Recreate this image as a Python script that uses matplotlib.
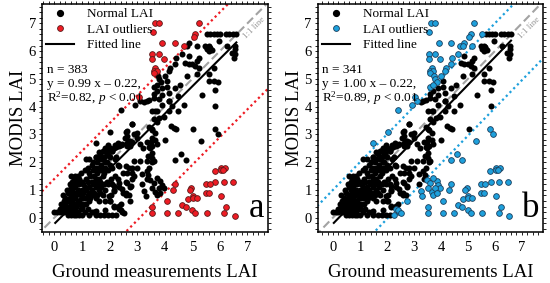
import matplotlib.pyplot as plt
import numpy as np
from matplotlib.lines import Line2D
from matplotlib.ticker import MultipleLocator

plt.rcParams["font.family"] = "Liberation Serif"
plt.rcParams["mathtext.fontset"] = "custom"
plt.rcParams["mathtext.rm"] = "Liberation Serif"
plt.rcParams["mathtext.it"] = "Liberation Serif:italic"

# dense low-LAI cluster, one row per MODIS value: ground LAI values
cluster_rows = {
    0.1: [0.5, 0.6, 0.7, 0.8, 0.9, 1.0, 1.25, 1.5, 1.65, 1.8, 1.95, 2.1, 2.25],
    0.2: [0.0, 0.1, 0.2, 0.35, 0.45, 0.55, 0.65, 0.75, 0.85, 1.1, 1.35, 1.45, 2.45],
    0.3: [0.2, 0.4, 0.5, 0.6, 0.7, 0.95, 1.2, 2.35],
    0.4: [0.3, 0.45, 0.55, 0.65, 0.8, 1.0, 2.15, 2.3],
    0.5: [0.25, 0.4, 0.6, 0.7, 0.85, 1.05, 1.15, 2.4],
    0.6: [0.35, 0.5, 0.65, 0.9, 1.25, 1.6, 1.85, 2.0],
    0.7: [0.4, 0.55, 0.75, 1.0, 1.1, 1.3, 1.5],
    0.8: [0.3, 0.6, 0.8, 0.95, 1.2, 1.4, 1.55, 1.75, 2.05, 2.6, 2.7],
    0.9: [0.5, 0.7, 0.9, 1.05, 1.3, 1.45, 1.65, 2.5],
    1.0: [0.45, 0.65, 0.85, 1.0, 1.15, 1.35, 1.6, 1.85, 2.15],
    1.1: [0.6, 0.75, 1.1, 1.25, 1.5, 1.7, 2.35, 2.75],
    1.2: [0.55, 0.7, 0.9, 1.05, 1.4, 1.55, 1.8, 1.95, 2.1],
    1.3: [0.65, 0.8, 1.0, 1.2, 1.35, 1.65, 1.9, 2.6],
    1.4: [0.7, 0.9, 1.15, 1.5, 1.6, 2.05, 2.3],
    1.5: [0.6, 0.75, 0.85, 1.3, 1.45, 1.75, 2.2],
    1.6: [0.95, 1.25, 1.55, 1.8, 2.5, 2.65],
    1.7: [1.1, 1.4, 1.7, 1.95],
    1.8: [1.2, 1.5, 1.6, 1.85, 2.1],
    1.9: [1.35, 1.7, 2.0, 2.3],
    2.0: [1.4, 1.55, 1.9],
    2.1: [1.25, 1.6, 1.75, 2.2],
    2.2: [1.5, 1.8, 2.0, 2.25],
    2.3: [1.65, 1.9],
    2.4: [1.75, 2.1],
    2.5: [1.85, 2.0, 2.15],
    2.6: [1.95, 2.2, 2.4],
    2.7: [1.5, 2.3],
}

# remaining normal points (ground, MODIS)
normal_mid = [
    (2.8, 3.38), (2.03, 3.08), (2.58, 3.08), (2.64, 2.95), (2.88, 3.02), (3.43, 3.26),
    (3.55, 3.14), (2.7, 2.77), (2.82, 2.71), (2.46, 2.65), (2.34, 2.59), (2.22, 2.53),
    (2.64, 2.59), (1.79, 2.41), (1.91, 2.35), (2.1, 2.41), (1.97, 2.23), (1.61, 2.35),
    (1.73, 2.11), (1.85, 1.99), (1.49, 2.17), (1.13, 2.11), (3.37, 2.71), (3.49, 2.71),
    (3.55, 2.59), (3.43, 2.53), (3.12, 2.05), (2.88, 2.05), (2.58, 1.87), (2.7, 1.8),
    (2.82, 1.8), (3.0, 1.8), (2.34, 1.87), (3.43, 1.8), (3.55, 1.99), (3.37, 1.38),
    (3.19, 1.56), (2.82, 1.62), (2.88, 1.5), (2.82, 1.38), (2.64, 1.26), (2.76, 1.14),
    (2.46, 1.02), (2.58, 0.9), (2.34, 1.26), (2.16, 1.14), (2.16, 0.96), (1.97, 0.78),
    (2.03, 0.59), (2.16, 0.41), (2.34, 0.41), (2.4, 0.29), (2.52, 0.17), (1.85, 0.29),
    (1.49, 0.23), (1.01, 0.35), (3.19, 1.2), (3.25, 0.96), (3.31, 0.78), (2.75, 0.6),
]
normal_high = [
    (2.42, 3.89), (2.94, 4.07), (3.1, 4.2), (3.25, 4.15), (3.35, 4.21), (3.75, 5.1),
    (3.8, 5.0), (3.85, 4.9), (3.6, 4.7), (3.72, 4.58), (3.6, 4.46), (3.78, 4.27),
    (4.08, 4.7), (3.53, 3.85), (3.66, 3.85), (3.6, 3.55), (3.72, 3.43), (3.53, 3.18),
    (3.66, 3.06), (3.53, 2.88), (3.66, 2.78), (3.72, 2.64), (3.47, 2.52), (3.53, 2.34),
    (3.53, 2.15), (3.6, 2.03), (3.35, 2.03), (3.41, 2.22), (2.99, 3.06), (2.99, 2.88),
    (3.11, 2.64), (3.23, 2.52), (2.75, 2.76), (2.81, 3.37), (2.63, 3.12), (2.57, 2.88),
    (2.63, 2.7), (2.75, 2.58), (3.35, 1.67), (3.41, 1.55), (3.47, 1.37), (3.6, 1.25),
    (3.53, 1.07), (3.66, 0.94), (3.72, 0.82), (3.84, 1.31), (3.9, 1.19), (3.96, 1.07),
    (3.72, 1.43), (3.78, 1.08), (3.84, 0.9), (4.14, 4.21), (4.26, 4.03), (4.5, 3.85),
    (3.81, 3.6), (4.02, 2.78), (4.24, 3.3), (4.32, 3.22), (4.41, 3.2), (5.03, 3.2),
    (5.81, 3.2), (5.93, 3.02), (5.32, 2.77), (4.6, 2.29), (4.36, 2.08), (4.78, 2.08),
    (3.61, 4.31), (3.43, 4.25),
]
normal_top = [
    (5.53, 6.6), (5.66, 6.6), (5.78, 6.6), (5.9, 6.6), (6.02, 6.6), (6.22, 6.6),
    (6.35, 6.6), (6.47, 6.6), (6.59, 6.6), (4.87, 6.31), (5.17, 6.19), (5.47, 6.19),
    (5.59, 6.19), (5.53, 6.07), (5.6, 6.0), (5.55, 6.1), (5.65, 6.1), (5.7, 6.05),
    (5.62, 6.15), (5.96, 6.37), (6.26, 6.19), (6.56, 6.19), (6.56, 6.07), (6.44, 5.94),
    (6.56, 5.88), (6.53, 5.76), (4.81, 6.19), (4.87, 5.82), (4.75, 5.58), (4.87, 5.52),
    (4.99, 5.52), (5.11, 5.46), (5.23, 5.4), (5.17, 5.64), (5.23, 5.76), (4.38, 5.52),
    (4.4, 5.75), (4.63, 5.88), (4.2, 5.4), (4.14, 5.28), (4.02, 5.1), (4.08, 4.92),
    (3.72, 4.79), (3.9, 4.67), (3.9, 4.43), (4.14, 4.49), (4.38, 4.67), (4.57, 4.79),
    (4.81, 5.1), (5.17, 5.16), (5.59, 5.16), (5.78, 5.4), (5.59, 4.92), (5.78, 4.92),
    (5.84, 4.61), (5.95, 4.9), (5.35, 4.43), (4.5, 4.37), (4.14, 4.19), (3.9, 4.07),
    (4.69, 4.07), (5.84, 4.01), (3.72, 3.83), (3.96, 3.64), (4.14, 3.83),
]

# outliers of panel a
outliers_high = [
    (3.65, 7.0), (3.78, 7.0), (3.57, 6.7), (5.23, 7.0), (3.92, 6.3), (4.38, 6.3),
    (4.69, 6.2), (5.1, 6.6), (5.05, 6.5), (3.55, 5.9), (3.78, 5.9), (3.55, 5.7),
    (3.96, 5.7), (3.66, 5.4), (3.61, 5.3), (3.72, 5.3), (3.6, 5.2), (3.05, 4.35),
]
outliers_low = [
    (6.04, 1.78), (6.2, 1.78), (6.04, 1.7), (6.1, 1.7), (5.81, 1.68), (5.84, 1.3),
    (6.14, 1.3), (6.47, 1.3), (5.5, 1.2), (5.63, 1.2), (5.5, 0.9), (5.6, 0.9),
    (6.04, 0.77), (6.24, 0.39), (6.14, 0.17), (6.54, 0.07), (5.53, 0.17), (4.95, 1.08),
    (4.9, 1.0), (4.36, 1.2), (4.3, 0.99), (4.07, 0.59), (4.08, 0.17), (4.47, 0.17),
    (4.63, 0.47), (4.77, 0.39), (4.83, 0.68), (5.01, 0.77), (5.02, 0.7), (5.16, 0.7),
    (4.99, 0.29), (5.11, 0.17), (3.53, 0.39), (3.53, 0.18),
]

# fitted line (slope, intercept) and outlier band offsets (upper, lower)
fit_a = (0.99, -0.22)
fit_b = (1.00, -0.22)
band_a = (1.4, -3.1)
band_b = (1.0, -2.05)
stats_a = ["n = 383", "y = 0.99 x \u2013 0.22,", r"R$^2$=0.82, $p$ < 0.01"]
stats_b = ["n = 341", "y = 1.00 x \u2013 0.22,", r"R$^2$=0.89, $p$ < 0.01"]

cluster = [(x, y) for y, xs in cluster_rows.items() for x in xs]
normal = np.array(cluster + normal_mid + normal_high + normal_top)
outliers = np.array(outliers_high + outliers_low)

# in panel b the narrower band turns some normal points into outliers
d = normal[:, 1] - normal[:, 0]
moved = (d > band_b[0]) | (d < band_b[1])
normal_b = normal[~moved]
outliers_b = np.vstack([outliers, normal[moved]])


def draw_panel(ax, pts, outs, fit, band, color, edge, stats, letter, xlim):
    ax.set_xlim(*xlim)
    ax.set_ylim(-0.52, 7.7)
    xx = np.array([-1.0, 8.0])
    ax.plot(xx, xx, color="#a3a3a3", lw=1.5, ls=(0, (4, 2)), zorder=1)
    for off in band:
        ax.plot(xx, xx + off, color=color, lw=1.6, ls=(0, (1, 1.4)), zorder=1)
    fx = np.array([0.03, 6.6])
    ax.plot(fx, fit[0] * fx + fit[1], color="black", lw=1.5, zorder=2)
    ax.scatter(pts[:, 0], pts[:, 1], s=19, color="black", lw=0, zorder=3)
    ax.scatter(outs[:, 0], outs[:, 1], s=17, color=color, edgecolors=edge,
               linewidths=0.6, zorder=3)

    ax.text(xlim[1] - 0.5, 6.85, "1:1 line", rotation=45, color="#9a9a9a",
            fontsize=6.5, ha="center", va="center")
    ax.text(0.985, 0.03, letter, transform=ax.transAxes, fontsize=25,
            ha="right", va="bottom")
    for i, s in enumerate(stats):
        ax.text(0.02, 0.71 - i * 0.062, s, transform=ax.transAxes,
                fontsize=9.5, va="center")

    handles = [
        Line2D([], [], marker="o", ls="", color="black", markersize=4.2),
        Line2D([], [], marker="o", ls="", color=color, markeredgecolor=edge,
               markeredgewidth=0.6, markersize=4.2),
        Line2D([], [], color="black", lw=1.5),
    ]
    ax.legend(handles, ["Normal LAI", "LAI outliers", "Fitted line"],
              loc="upper left", frameon=False, fontsize=9.5, handlelength=2.1,
              handletextpad=1.0, labelspacing=0.25, borderaxespad=0.1,
              borderpad=0.2)

    ax.xaxis.set_major_locator(MultipleLocator(1))
    ax.yaxis.set_major_locator(MultipleLocator(1))
    ax.xaxis.set_minor_locator(MultipleLocator(0.2))
    ax.yaxis.set_minor_locator(MultipleLocator(0.2))
    ax.tick_params(which="both", direction="out", length=2.5, width=0.6,
                   top=True, right=True, labelsize=10.5)
    ax.tick_params(axis="x", pad=4)
    ax.tick_params(axis="y", pad=2)
    for sp in ax.spines.values():
        sp.set_linewidth(1.1)
    ax.set_xlabel("Ground measurements LAI", fontsize=13.5, labelpad=7)
    ax.set_ylabel("MODIS LAI", fontsize=13.5, labelpad=1)


fig = plt.figure(figsize=(5.5, 2.83), dpi=100)
ax1 = fig.add_axes([0.0764, 0.180, 0.411, 0.806])
ax2 = fig.add_axes([0.578, 0.180, 0.409, 0.806])

draw_panel(ax1, normal, outliers, fit_a, band_a, "#ee1c24", "#5a1a1a",
           stats_a, "a", (-0.45, 7.75))
draw_panel(ax2, normal_b, outliers_b, fit_b, band_b, "#1ea0dc", "#1b3f5c",
           stats_b, "b", (-0.56, 7.78))

fig.savefig("out.png", dpi=100)
